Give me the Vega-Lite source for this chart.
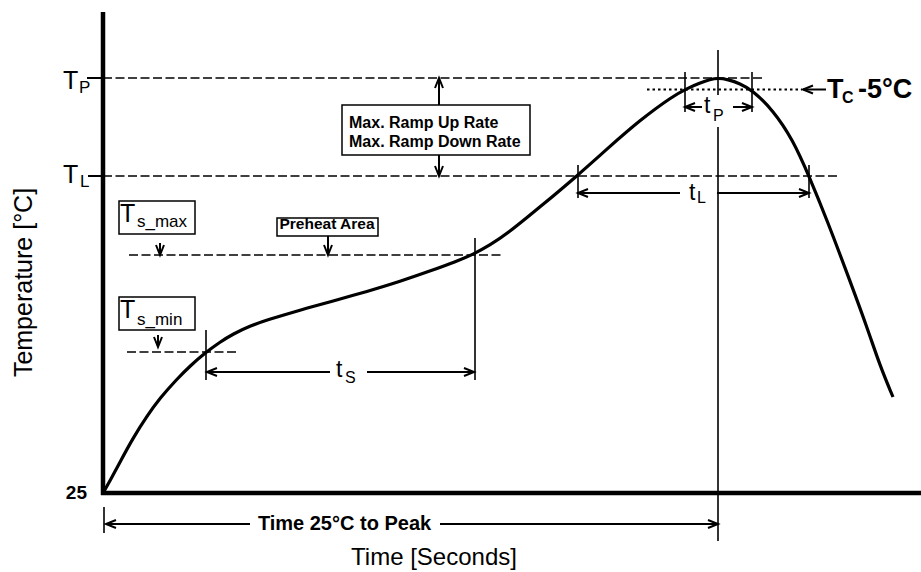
{
  "$schema": "https://vega.github.io/schema/vega-lite/v6.json",
  "width": 921,
  "height": 572,
  "padding": 0,
  "autosize": {"type": "none"},
  "background": "white",
  "config": {"view": {"stroke": null}},
  "encoding": {
    "x": {"field": "t", "type": "quantitative", "scale": {"domain": [-51.5, 409], "nice": false, "zero": false}, "axis": null},
    "y": {"field": "temp", "type": "quantitative", "scale": {"domain": [-14.5, 271.5], "nice": false, "zero": false}, "axis": null}
  },
  "layer": [
    {
      "data": {"values": [
        {"t": 0, "t2": 331, "temp": 232.5, "temp2": 232.5},
        {"t": 0, "t2": 367.5, "temp": 183.5, "temp2": 183.5},
        {"t": 13, "t2": 200, "temp": 144, "temp2": 144},
        {"t": 12, "t2": 67.5, "temp": 95.5, "temp2": 95.5}
      ]},
      "mark": {"type": "rule", "color": "black", "strokeWidth": 1.5, "strokeDash": [9, 3.5]},
      "encoding": {"x2": {"field": "t2"}, "y2": {"field": "temp2"}}
    },
    {
      "data": {"values": [
        {"t": 272, "t2": 349.5, "temp": 226.75, "temp2": 226.75}
      ]},
      "mark": {"type": "rule", "color": "black", "strokeWidth": 1.8, "strokeDash": [2.5, 3]},
      "encoding": {"x2": {"field": "t2"}, "y2": {"field": "temp2"}}
    },
    {
      "data": {"values": [
        {"t": 51.5, "t2": 51.5, "temp": 106.5, "temp2": 81.5},
        {"t": 186, "t2": 186, "temp": 152.5, "temp2": 81.5},
        {"t": 237.5, "t2": 237.5, "temp": 189, "temp2": 172.5},
        {"t": 353, "t2": 353, "temp": 189, "temp2": 172.5},
        {"t": 291, "t2": 291, "temp": 235.5, "temp2": 215.5},
        {"t": 324.5, "t2": 324.5, "temp": 235.5, "temp2": 215.5},
        {"t": 307.5, "t2": 307.5, "temp": 246.5, "temp2": 224},
        {"t": 307.5, "t2": 307.5, "temp": 208, "temp2": 1},
        {"t": 0.5, "t2": 0.5, "temp": 18, "temp2": 5}
      ]},
      "mark": {"type": "rule", "color": "black", "strokeWidth": 1.6},
      "encoding": {"x2": {"field": "t2"}, "y2": {"field": "temp2"}}
    },
    {
      "data": {"values": [
        {"t": 52, "t2": 113.5, "temp": 85.5, "temp2": 85.5},
        {"t": 132, "t2": 185.5, "temp": 85.5, "temp2": 85.5},
        {"t": 237.5, "t2": 288.5, "temp": 175, "temp2": 175},
        {"t": 307, "t2": 353, "temp": 175, "temp2": 175},
        {"t": 291, "t2": 299.5, "temp": 218, "temp2": 218},
        {"t": 315, "t2": 324.5, "temp": 218, "temp2": 218},
        {"t": 1.5, "t2": 73.5, "temp": 9.5, "temp2": 9.5},
        {"t": 168.5, "t2": 307.5, "temp": 9.5, "temp2": 9.5},
        {"t": 168, "t2": 168, "temp": 219, "temp2": 232.5},
        {"t": 168, "t2": 168, "temp": 194, "temp2": 183.5},
        {"t": 28.5, "t2": 28.5, "temp": 150, "temp2": 144},
        {"t": 112.5, "t2": 112.5, "temp": 153.5, "temp2": 144},
        {"t": 27.5, "t2": 27.5, "temp": 104, "temp2": 98},
        {"t": 350, "t2": 361.5, "temp": 226.75, "temp2": 226.75},
        {"t": -8, "t2": 0, "temp": 232.5, "temp2": 232.5},
        {"t": -7.5, "t2": 0, "temp": 183.5, "temp2": 183.5}
      ]},
      "mark": {"type": "rule", "color": "black", "strokeWidth": 2},
      "encoding": {"x2": {"field": "t2"}, "y2": {"field": "temp2"}}
    },
    {
      "data": {"values": [
        {"t": 119.5, "t2": 213.5, "temp": 219, "temp2": 194},
        {"t": 8, "t2": 46, "temp": 171, "temp2": 154.5},
        {"t": 87, "t2": 137.5, "temp": 162.5, "temp2": 153.5},
        {"t": 8, "t2": 46, "temp": 123, "temp2": 106.5}
      ]},
      "mark": {"type": "rect", "fill": "white", "stroke": "black", "strokeWidth": 1.5},
      "encoding": {"x2": {"field": "t2"}, "y2": {"field": "temp2"}}
    },
    {
      "data": {"values": [
        {"t": 0, "temp": 25}, {"t": 3.5, "temp": 31}, {"t": 8.5, "temp": 40.5}, {"t": 15, "temp": 52.5},
        {"t": 22, "temp": 63.5}, {"t": 28.5, "temp": 72.5}, {"t": 37, "temp": 82}, {"t": 43.5, "temp": 88.5},
        {"t": 51, "temp": 95}, {"t": 58.5, "temp": 100.5}, {"t": 65, "temp": 104.5}, {"t": 73.5, "temp": 108.5},
        {"t": 82, "temp": 111.5}, {"t": 98.5, "temp": 116.5}, {"t": 115, "temp": 121}, {"t": 132, "temp": 125.75},
        {"t": 148.5, "temp": 130.75}, {"t": 165, "temp": 136.5}, {"t": 176, "temp": 140.5}, {"t": 185.5, "temp": 144.5},
        {"t": 193.5, "temp": 149}, {"t": 202, "temp": 154.5}, {"t": 218.5, "temp": 168}, {"t": 237, "temp": 183.5},
        {"t": 252, "temp": 197}, {"t": 268.5, "temp": 211.5}, {"t": 285, "temp": 223.5}, {"t": 292, "temp": 227.25},
        {"t": 298.5, "temp": 230}, {"t": 303.5, "temp": 231.75}, {"t": 307.5, "temp": 232.5}, {"t": 312.5, "temp": 231.75},
        {"t": 318.5, "temp": 229.75}, {"t": 324.5, "temp": 226.5}, {"t": 335, "temp": 216.5}, {"t": 345, "temp": 201.5},
        {"t": 353, "temp": 183.5}, {"t": 362, "temp": 161.5}, {"t": 372, "temp": 135}, {"t": 382, "temp": 108},
        {"t": 388.5, "temp": 88.5}, {"t": 395, "temp": 73}
      ]},
      "mark": {"type": "line", "color": "black", "strokeWidth": 3.2, "interpolate": "basis"}
    },
    {
      "data": {"values": [
        {"t": 52, "temp": 85.5, "dir": "L"}, {"t": 185.5, "temp": 85.5, "dir": "R"},
        {"t": 237.5, "temp": 175, "dir": "L"}, {"t": 353, "temp": 175, "dir": "R"},
        {"t": 291, "temp": 218, "dir": "L"}, {"t": 324.5, "temp": 218, "dir": "R"},
        {"t": 1.5, "temp": 9.5, "dir": "L"}, {"t": 307.5, "temp": 9.5, "dir": "R"},
        {"t": 168, "temp": 232.5, "dir": "U"}, {"t": 168, "temp": 183.5, "dir": "D"},
        {"t": 28.5, "temp": 144, "dir": "D"}, {"t": 112.5, "temp": 144, "dir": "D"},
        {"t": 27.5, "temp": 98, "dir": "D"}, {"t": 350, "temp": 226.75, "dir": "L"}
      ]},
      "mark": {"type": "point", "filled": false, "color": "black", "strokeWidth": 2, "size": 100, "opacity": 1},
      "encoding": {
        "shape": {"field": "dir", "type": "nominal", "legend": null,
          "scale": {"domain": ["L", "R", "U", "D"], "range": ["M2,-0.8L0,0L2,0.8", "M-2,-0.8L0,0L-2,0.8", "M-0.8,2L0,0L0.8,2", "M-0.8,-2L0,0L0.8,-2"]}}
      }
    },
    {
      "data": {"values": [
        {"t": -20, "temp": 227.25, "label": "T"},
        {"t": -20, "temp": 180, "label": "T"},
        {"t": 8.5, "temp": 160.5, "label": "T"},
        {"t": 8.5, "temp": 112.5, "label": "T"}
      ]},
      "mark": {"type": "text", "font": "Liberation Sans", "fontSize": 25, "align": "left", "baseline": "alphabetic", "color": "black"},
      "encoding": {"text": {"field": "label"}}
    },
    {
      "data": {"values": [
        {"t": -12, "temp": 225.25, "label": "P"},
        {"t": -11.5, "temp": 178, "label": "L"},
        {"t": 17, "temp": 158, "label": "s_max"},
        {"t": 17, "temp": 109, "label": "s_min"}
      ]},
      "mark": {"type": "text", "font": "Liberation Sans", "fontSize": 17, "align": "left", "baseline": "alphabetic", "color": "black"},
      "encoding": {"text": {"field": "label"}}
    },
    {
      "data": {"values": [
        {"t": 116.5, "temp": 83, "label": "t"},
        {"t": 293, "temp": 171.5, "label": "t"},
        {"t": 300.5, "temp": 215, "label": "t"}
      ]},
      "mark": {"type": "text", "font": "Liberation Sans", "fontSize": 23, "align": "left", "baseline": "alphabetic", "color": "black"},
      "encoding": {"text": {"field": "label"}}
    },
    {
      "data": {"values": [
        {"t": 121, "temp": 80, "label": "S"},
        {"t": 297, "temp": 170, "label": "L"},
        {"t": 305, "temp": 211, "label": "P"}
      ]},
      "mark": {"type": "text", "font": "Liberation Sans", "fontSize": 16, "align": "left", "baseline": "alphabetic", "color": "black"},
      "encoding": {"text": {"field": "label"}}
    },
    {
      "data": {"values": [
        {"t": 123, "temp": 207.4, "label": "Max. Ramp Up Rate"},
        {"t": 123, "temp": 197.9, "label": "Max. Ramp Down Rate"}
      ]},
      "mark": {"type": "text", "font": "Liberation Sans", "fontSize": 16, "fontWeight": "bold", "align": "left", "baseline": "alphabetic", "color": "black"},
      "encoding": {"text": {"field": "label"}}
    },
    {
      "data": {"values": [
        {"t": 112, "temp": 156.9, "label": "Preheat Area"}
      ]},
      "mark": {"type": "text", "font": "Liberation Sans", "fontSize": 15.5, "fontWeight": "bold", "align": "center", "baseline": "alphabetic", "color": "black"},
      "encoding": {"text": {"field": "label"}}
    },
    {
      "data": {"values": [
        {"t": -8, "temp": 21.85, "label": "25"}
      ]},
      "mark": {"type": "text", "font": "Liberation Sans", "fontSize": 19, "fontWeight": "bold", "align": "right", "baseline": "alphabetic", "color": "black"},
      "encoding": {"text": {"field": "label"}}
    },
    {
      "data": {"values": [
        {"t": 120.75, "temp": 6.5, "label": "Time 25°C to Peak"}
      ]},
      "mark": {"type": "text", "font": "Liberation Sans", "fontSize": 20, "fontWeight": "bold", "align": "center", "baseline": "alphabetic", "color": "black"},
      "encoding": {"text": {"field": "label"}}
    },
    {
      "data": {"values": [
        {"t": 362, "temp": 222.5, "label": "T"},
        {"t": 377.5, "temp": 222.5, "label": "-5°C"}
      ]},
      "mark": {"type": "text", "font": "Liberation Sans", "fontSize": 27, "fontWeight": "bold", "align": "left", "baseline": "alphabetic", "color": "black"},
      "encoding": {"text": {"field": "label"}}
    },
    {
      "data": {"values": [
        {"t": 369.5, "temp": 220, "label": "C"}
      ]},
      "mark": {"type": "text", "font": "Liberation Sans", "fontSize": 16, "fontWeight": "bold", "align": "left", "baseline": "alphabetic", "color": "black"},
      "encoding": {"text": {"field": "label"}}
    },
    {
      "data": {"values": [
        {"t": 165.5, "temp": -7.5, "label": "Time [Seconds]"}
      ]},
      "mark": {"type": "text", "font": "Liberation Sans", "fontSize": 24, "align": "center", "baseline": "middle", "color": "black"},
      "encoding": {"text": {"field": "label"}}
    },
    {
      "data": {"values": [
        {"t": -39.75, "temp": 130.25, "label": "Temperature [°C]"}
      ]},
      "mark": {"type": "text", "font": "Liberation Sans", "fontSize": 25, "angle": 270, "align": "center", "baseline": "middle", "color": "black"},
      "encoding": {"text": {"field": "label"}}
    },
    {
      "data": {"values": [
        {"t": 0, "t2": 0, "temp": 265.5, "temp2": 24},
        {"t": -1, "t2": 409, "temp": 25, "temp2": 25}
      ]},
      "mark": {"type": "rule", "color": "black", "strokeWidth": 4.5},
      "encoding": {"x2": {"field": "t2"}, "y2": {"field": "temp2"}}
    }
  ]
}
